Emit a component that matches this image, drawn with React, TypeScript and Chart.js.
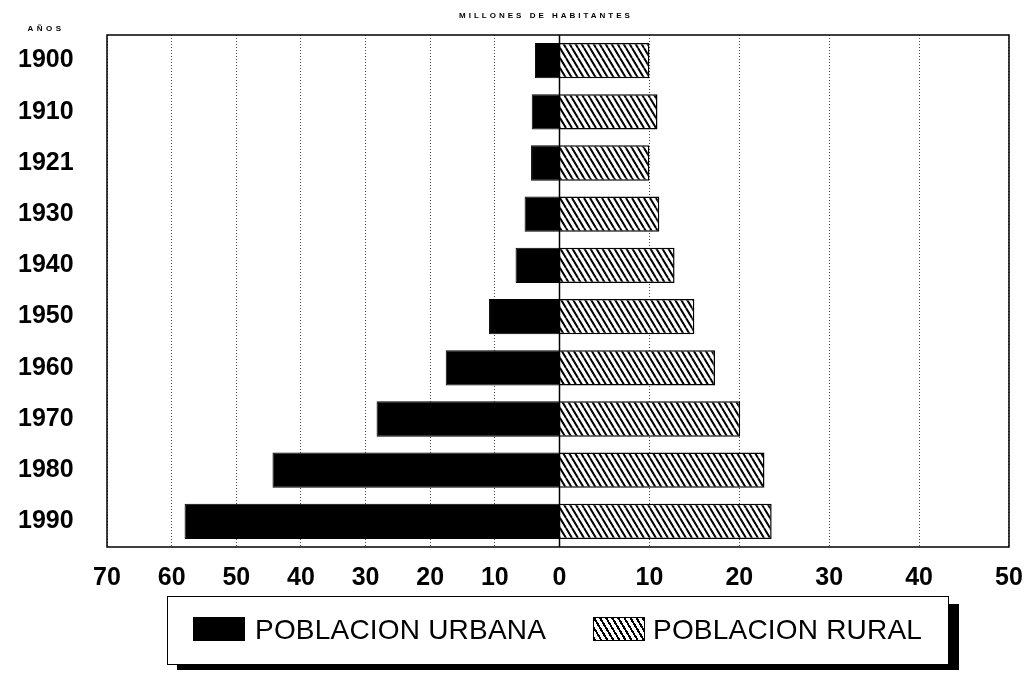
import React, { useEffect, useRef } from 'react';
import { Chart, registerables } from 'chart.js';

Chart.register(...registerables);

// ---- data ----
const years = ['1900', '1910', '1921', '1930', '1940', '1950', '1960', '1970', '1980', '1990'];
const urbanPop = [3.8, 4.3, 4.4, 5.4, 6.8, 10.9, 17.6, 28.3, 44.4, 58.0];
const ruralPop = [10.0, 10.9, 10.0, 11.1, 12.8, 15.0, 17.3, 20.1, 22.8, 23.6];
const seriesLabels = ['POBLACION URBANA', 'POBLACION RURAL'];
const titleText = 'MILLONES DE HABITANTES';
const yAxisTitle = 'AÑOS';
const urbanMax = 70;
const ruralMax = 50;
const tickStep = 10;

const FONT = '"Liberation Sans", Arial, Helvetica, sans-serif';

function makeHatch(): CanvasPattern | string {
  const c = document.createElement('canvas');
  c.width = 6;
  c.height = 10;
  const g = c.getContext('2d');
  if (!g) return '#888';
  g.fillStyle = '#fff';
  g.fillRect(0, 0, 6, 10);
  g.strokeStyle = '#000';
  g.lineWidth = 2;
  g.beginPath();
  for (const dx of [-6, 0, 6]) {
    g.moveTo(dx, 0);
    g.lineTo(dx + 6, 10);
  }
  g.stroke();
  return g.createPattern(c, 'repeat') || '#888';
}

const framePlugin = {
  id: 'frameAndTitles',
  afterDraw(chart: any) {
    const { ctx, chartArea: a, scales } = chart;
    ctx.save();
    ctx.setLineDash([]);
    ctx.strokeStyle = '#000';
    ctx.lineWidth = 1.5;
    ctx.strokeRect(a.left, a.top, a.right - a.left, a.bottom - a.top);
    const x0 = scales.xR.getPixelForValue(0);
    ctx.beginPath();
    ctx.moveTo(x0, a.top);
    ctx.lineTo(x0, a.bottom);
    ctx.stroke();
    ctx.fillStyle = '#000';
    ctx.font = `bold 8px ${FONT}`;
    ctx.textAlign = 'center';
    ctx.textBaseline = 'middle';
    (ctx as any).letterSpacing = '3px';
    ctx.fillText(titleText, (a.left + a.right) / 2 - 12, a.top - 19);
    (ctx as any).letterSpacing = '3.5px';
    ctx.fillText(yAxisTitle, 38, a.top - 6);
    (ctx as any).letterSpacing = '0px';
    ctx.restore();
  },
};

const gridCommon = {
  color: 'rgba(0,0,0,0.7)',
  lineWidth: 1,
  drawTicks: true,
  tickLength: 16,
  tickColor: 'rgba(0,0,0,0)',
};

const xTicks = {
  stepSize: tickStep,
  autoSkip: false,
  maxRotation: 0,
  minRotation: 0,
  padding: 0,
  color: '#000',
  font: { family: FONT, size: 25, weight: 'bold' },
};

export default function App() {
  const ref = useRef<HTMLCanvasElement>(null);

  useEffect(() => {
    if (!ref.current) return;
    const hatch = makeHatch();
    const chart = new Chart(ref.current, {
      type: 'bar',
      data: {
        labels: years,
        datasets: [
          {
            label: seriesLabels[0],
            data: urbanPop,
            xAxisID: 'xL',
            backgroundColor: '#000',
            borderColor: '#000',
            borderWidth: 1,
          },
          {
            label: seriesLabels[1],
            data: ruralPop,
            xAxisID: 'xR',
            backgroundColor: hatch as any,
            borderColor: '#000',
            borderWidth: 1.5,
          },
        ],
      },
      options: {
        indexAxis: 'y',
        responsive: false,
        animation: false,
        layout: { padding: { left: 10, right: 21, top: 27, bottom: 73 } },
        datasets: { bar: { grouped: false, categoryPercentage: 0.69, barPercentage: 1 } },
        plugins: { legend: { display: false }, tooltip: { enabled: false }, title: { display: false } },
        scales: {
          y: {
            type: 'category',
            position: 'left',
            grid: { display: false, drawTicks: false },
            border: { display: false },
            ticks: {
              color: '#000',
              padding: 0,
              crossAlign: 'far',
              font: { family: FONT, size: 25, weight: 'bold' },
            },
            afterFit: (s: any) => {
              s.width = 89;
            },
          },
          xL: {
            type: 'linear',
            position: 'bottom',
            stack: 'x',
            stackWeight: 453,
            reverse: true,
            min: 0,
            max: urbanMax,
            grid: gridCommon,
            border: { display: false, dash: [1, 2] },
            ticks: xTicks,
            afterFit: (s: any) => {
              s.height = 50;
            },
          },
          xR: {
            type: 'linear',
            position: 'bottom',
            stack: 'x',
            stackWeight: 450,
            min: 0,
            max: ruralMax,
            grid: gridCommon,
            border: { display: false, dash: [1, 2] },
            ticks: {
              ...xTicks,
              callback: (v: any) => (Number(v) === 0 ? '' : String(v)),
            },
            afterFit: (s: any) => {
              s.height = 50;
            },
          },
        },
      } as any,
      plugins: [framePlugin],
    });
    return () => chart.destroy();
  }, []);

  const hatchCss = 'repeating-linear-gradient(59deg, #000 0px, #000 2px, #fff 2px, #fff 5.2px)';
  const legendText = {
    position: 'absolute' as const,
    top: 0,
    height: 66,
    lineHeight: '66px',
    fontSize: 28,
    letterSpacing: '0.2px',
    color: '#000',
    whiteSpace: 'nowrap' as const,
  };

  return (
    <div style={{ position: 'relative', width: 1022, height: 662, fontFamily: FONT }}>
      <canvas ref={ref} width={1022} height={662} style={{ display: 'block' }} />
      <div
        style={{
          position: 'absolute',
          left: 159,
          top: 588,
          width: 782,
          height: 69,
          boxSizing: 'border-box',
          border: '1.5px solid #000',
          boxShadow: '10px 8px 0 #000',
          background: '#fff',
        }}
      >
        <div style={{ position: 'absolute', left: 25, top: 20, width: 52, height: 24, background: '#000' }} />
        <div style={{ ...legendText, left: 87 }}>{seriesLabels[0]}</div>
        <div
          style={{
            position: 'absolute',
            left: 425,
            top: 20,
            width: 52,
            height: 24,
            boxSizing: 'border-box',
            border: '1px solid #000',
            background: hatchCss,
          }}
        />
        <div style={{ ...legendText, left: 485 }}>{seriesLabels[1]}</div>
      </div>
    </div>
  );
}
